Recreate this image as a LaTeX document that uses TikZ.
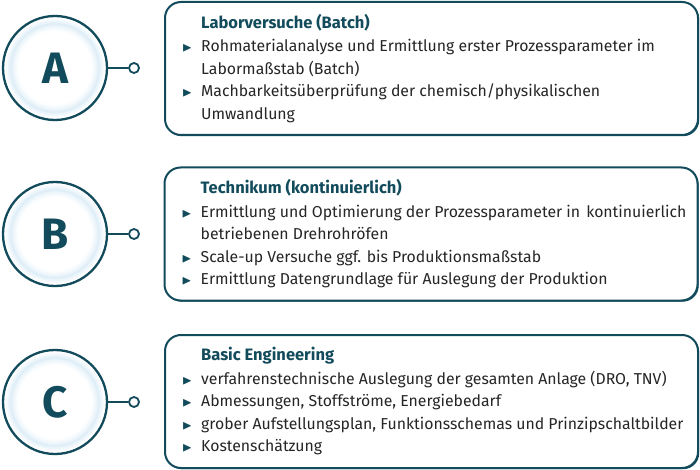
\documentclass[tikz,border=0pt]{standalone}
\usepackage{fontspec}
\setmainfont{Fira Sans}
\usepackage{amssymb}
\usetikzlibrary{shadows,calc}

\definecolor{petrol}{HTML}{124B5B}
\definecolor{glow}{HTML}{D3E8F4}
\definecolor{ink}{HTML}{262626}

\newcommand{\bul}{\makebox[19pt][l]{\textcolor{petrol}{\fontsize{13}{13}\selectfont$\blacktriangleright$}}}
\newcommand{\ind}{\hspace*{19pt}}
\newcommand{\head}[1]{\ind\textcolor{petrol}{\fontsize{16.5}{22.5}\selectfont\bfseries #1}}

\begin{document}
\begin{tikzpicture}[x=1pt,y=-1pt,every node/.style={inner sep=0pt},
  stagebox/.style={draw=petrol,line width=2pt,rounded corners=16pt,fill=white,
    minimum width=533pt,minimum height=133pt,
    drop shadow={shadow xshift=1.2pt,shadow yshift=-1.2pt,fill=petrol,opacity=1}},
  stagetext/.style={anchor=north west,align=left,text=ink,
    font=\fontsize{15.8}{22.5}\selectfont},
  ring/.style={circle,draw=petrol,line width=2.3pt,minimum size=104pt,
    text=petrol,font=\fontsize{44}{44}\selectfont\bfseries},
  dot/.style={circle,draw=petrol,line width=1.8pt,minimum size=10pt,fill=white},
  link/.style={draw=petrol,line width=1.6pt}]
\useasboundingbox (0,0) rectangle (700,470);

% stages
\node (boxA) [stagebox] at (431.5,68.5) {};
\node (boxB) [stagebox] at (431,234) {};
\node (boxC) [stagebox] at (431.5,401.5) {};

\foreach \n/\y in {A/68,B/234,C/402}
{
  \foreach \r/\o in {48/0.2,46/0.45,44/0.7,42/0.45,40/0.25,38/0.1}
    \draw [glow,opacity=\o,line width=2.2pt] (55,\y) circle (\r) ;
  \node (circ\n) [ring] at (55,\y) {\n};
  \node (dot\n) [dot] at (134,\y) {};
  \draw [link] (circ\n) -- (dot\n) ;
}

\node (txtA) [stagetext] at ($(boxA.north west)+(18,13)$)
 {\head{Laborversuche (Batch)}\\[1pt]
  \bul Rohmaterialanalyse und Ermittlung erster Prozessparameter im\\
  \ind Labormaßstab (Batch)\\
  \bul Machbarkeitsüberprüfung der chemisch/physikalischen\\
  \ind Umwandlung}
;
\node (txtB) [stagetext] at ($(boxB.north west)+(18,13)$)
 {\head{Technikum (kontinuierlich)}\\[1pt]
  \bul Ermittlung und Optimierung der Prozessparameter in\hspace{2pt} kontinuierlich\\
  \ind betriebenen Drehrohröfen\\
  \bul Scale-up Versuche ggf. bis Produktionsmaßstab\\
  \bul Ermittlung Datengrundlage für Auslegung der Produktion}
;
\node (txtC) [stagetext] at ($(boxC.north west)+(18,13)$)
 {\head{Basic Engineering}\\[1pt]
  \bul verfahrenstechnische Auslegung der gesamten Anlage (DRO, TNV)\\
  \bul Abmessungen, Stoffströme, Energiebedarf\\
  \bul grober Aufstellungsplan, Funktionsschemas und Prinzipschaltbilder\\
  \bul Kostenschätzung}
;
\end{tikzpicture}
\end{document}
